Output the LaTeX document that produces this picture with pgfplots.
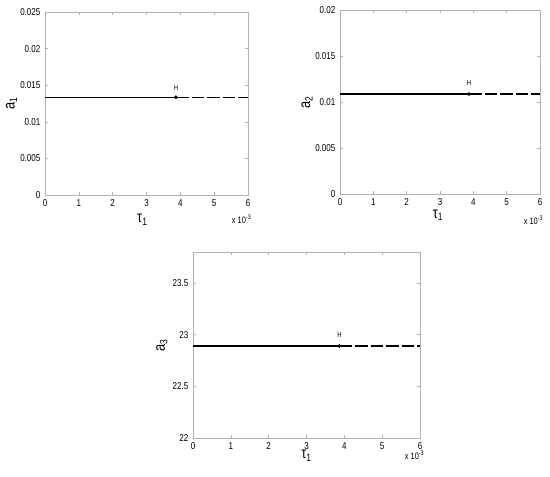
\documentclass[border=0pt]{standalone}
\usepackage{pgfplots}
\pgfplotsset{compat=1.18}
\usepackage{fontspec}
\setmainfont{Liberation Sans}[FakeStretch=0.8]
\begin{document}
\begin{tikzpicture}
\pgfplotsset{
  every axis/.append style={
    scale only axis,
    anchor=north west,
    xmin=0, xmax=6,
    xtick={0,1,2,3,4,5,6},
    tick align=inside,
    major tick length=2pt,
    axis line style={gray!60, line width=0.5pt},
    tick style={gray!60, line width=0.4pt},
    tick label style={font=\fontsize{7.5}{8}\selectfont, black},
    /pgf/number format/assume math mode=true,
    scaled y ticks=false,
    yticklabel style={/pgf/number format/fixed, /pgf/number format/precision=3},
    label style={font=\fontsize{12}{13}\selectfont},
    clip=false,
  },
  solidpart/.style={black, line width=1.1pt},
  dashpart/.style={black, line width=1.1pt, dash pattern=on 9.5pt off 2.2pt},
  hpt/.style={only marks, mark=*, mark size=1.2pt, black},
}
\path[use as bounding box] (0,0) rectangle (412.5pt,-357pt);

% Axis 1
\begin{axis}[at={(33.75pt,-9pt)}, width=152.25pt, height=137.25pt,
  ymin=0, ymax=0.025, ytick={0,0.005,0.01,0.015,0.02,0.025},
  xlabel={τ\textsubscript{1}}, ylabel={a\textsubscript{1}},
  xlabel style={at={(axis description cs:0.48,-0.135)}, anchor=center},
  ylabel style={at={(axis description cs:-0.165,0.5)}, anchor=center},
]
\addplot[solidpart] coordinates {(0,0.01335) (3.87,0.01335)};
\addplot[dashpart] coordinates {(3.87,0.01335) (6,0.01335)};
\addplot[hpt] coordinates {(3.87,0.01335)};
\node[font=\fontsize{5.5}{6}\selectfont, anchor=south] at (axis cs:3.87,0.0137) {H};
\node[font=\fontsize{7}{8}\selectfont, anchor=north east] at (rel axis cs:1.04,-0.08) {x 10\textsuperscript{-3}};
\end{axis}

% Axis 2
\begin{axis}[at={(255pt,-7.5pt)}, width=150pt, height=138pt,
  ymin=0, ymax=0.02, ytick={0,0.005,0.01,0.015,0.02},
  xlabel={τ\textsubscript{1}}, ylabel={a\textsubscript{2}},
  xlabel style={at={(axis description cs:0.49,-0.115)}, anchor=center},
  ylabel style={at={(axis description cs:-0.165,0.5)}, anchor=center},
]
\addplot[solidpart] coordinates {(0,0.01087) (3.87,0.01087)};
\addplot[dashpart] coordinates {(3.87,0.01087) (6,0.01087)};
\addplot[hpt] coordinates {(3.87,0.01087)};
\node[font=\fontsize{5.5}{6}\selectfont, anchor=south] at (axis cs:3.87,0.0113) {H};
\node[font=\fontsize{7}{8}\selectfont, anchor=north east] at (rel axis cs:1.04,-0.095) {x 10\textsuperscript{-3}};
\end{axis}

% Axis 3
\begin{axis}[at={(144.75pt,-189pt)}, width=170.25pt, height=139.5pt,
  ymin=22, ymax=23.8, ytick={22,22.5,23,23.5},
  yticklabel style={/pgf/number format/fixed, /pgf/number format/precision=1},
  xlabel={τ\textsubscript{1}}, ylabel={a\textsubscript{3}},
  xlabel style={at={(axis description cs:0.5,-0.095)}, anchor=center},
  ylabel style={at={(axis description cs:-0.137,0.5)}, anchor=center},
]
\addplot[solidpart] coordinates {(0,22.89) (3.87,22.89)};
\addplot[dashpart] coordinates {(3.87,22.89) (6,22.89)};
\addplot[hpt] coordinates {(3.87,22.89)};
\node[font=\fontsize{5.5}{6}\selectfont, anchor=south] at (axis cs:3.87,22.93) {H};
\node[font=\fontsize{7}{8}\selectfont, anchor=north east] at (rel axis cs:1.04,-0.045) {x 10\textsuperscript{-3}};
\end{axis}
\end{tikzpicture}
\end{document}
